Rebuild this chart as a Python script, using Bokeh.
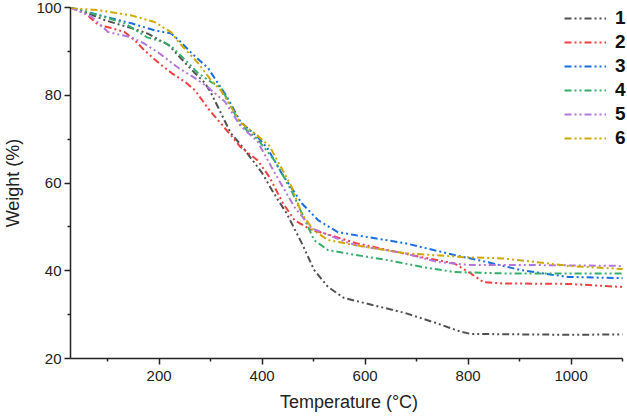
from bokeh.plotting import figure
from bokeh.models import FixedTicker, Legend, LegendItem, Range1d
from bokeh.embed import file_html
from bokeh.resources import INLINE

# ---- data ----
t1 = [28, 60, 95, 146, 177, 219, 251, 270, 289, 301, 339, 360, 400, 419, 448, 477, 501, 528, 559, 614, 677, 740, 786, 805, 900, 1000, 1100]
w1 = [100, 98.8, 97.1, 95.3, 94.1, 91.4, 87.3, 85, 82.8, 80.5, 71.4, 68.5, 62.3, 58.4, 53, 46.3, 40.2, 36.3, 33.8, 32.2, 30.4, 28, 26.1, 25.6, 25.5, 25.4, 25.5]

t2 = [28, 57, 82, 108, 133, 152, 171, 200, 225, 251, 270, 295, 343, 358, 391, 414, 440, 463, 496, 519, 582, 645, 709, 773, 805, 830, 868, 995, 1100]
w2 = [100, 98.7, 96, 95.3, 94.4, 92.6, 90.3, 87.3, 85, 83, 81.1, 77, 70.4, 68.2, 65.2, 61.4, 55.5, 51.5, 49.3, 48.6, 46.3, 44.7, 43.1, 41.7, 39.4, 37.4, 37.1, 37, 36.3]

t3 = [28, 70, 146, 191, 223, 238, 263, 295, 314, 330, 358, 391, 410, 438, 477, 509, 547, 582, 677, 773, 836, 900, 963, 995, 1100]
w3 = [100, 98.7, 96.4, 94.8, 94.1, 92.6, 89.6, 86.2, 82.8, 80, 74, 70.5, 68, 62.2, 55.4, 51.5, 48.8, 48.1, 46.3, 43.6, 42, 40.2, 39.1, 38.6, 38.3]

t4 = [28, 89, 133, 177, 209, 225, 251, 276, 301, 320, 358, 391, 425, 458, 501, 528, 582, 645, 709, 773, 868, 1100]
w4 = [100, 98, 96.4, 93.2, 92.1, 91, 88, 85, 83, 81.8, 73.3, 70, 65, 58, 47, 44.7, 43.6, 42.4, 40.9, 39.7, 39.4, 39.4]

t5 = [28, 70, 101, 146, 171, 200, 238, 270, 295, 328, 358, 391, 425, 463, 496, 553, 582, 677, 740, 805, 931, 1100]
w5 = [100, 97.8, 94.4, 93.2, 91.8, 89.6, 86.2, 83.9, 81.8, 78.5, 73, 69.5, 62.2, 54.5, 49.7, 47, 45.8, 44, 42, 41.3, 41.3, 41.1]

t6 = [28, 38, 82, 146, 191, 223, 238, 276, 301, 320, 358, 391, 414, 458, 477, 500, 528, 582, 677, 792, 868, 931, 995, 1100]
w6 = [100, 99.8, 99.4, 98.2, 96.7, 94.4, 92.1, 87.3, 83.4, 81.1, 73.8, 70.8, 68.5, 59, 53, 49.2, 47, 45.8, 44, 43.1, 42.8, 42, 41.1, 40.4]

labels = ["1", "2", "3", "4", "5", "6"]
colors = ["#515151", "#F14040", "#1A6FDF", "#37AD6B", "#B177DE", "#CFA800"]

x_major = [200, 400, 600, 800, 1000]
x_minor = [100, 300, 500, 700, 900, 1100]
y_major = [20, 40, 60, 80, 100]
y_minor = [30, 50, 70, 90]

FONT = "Liberation Sans"

# frame extends to the window's right edge so the legend labels fit;
# the x axis line itself stops at 1100 via axis bounds
p = figure(width=627, height=417, output_backend="svg", toolbar_location=None,
           x_range=Range1d(28, 1109.5), y_range=Range1d(20, 100),
           min_border_left=60, min_border_right=0, min_border_top=7, min_border_bottom=59)
p.outline_line_color = None
p.grid.visible = False
p.background_fill_color = "white"
p.border_fill_color = "white"

series = [(t1, w1), (t2, w2), (t3, w3), (t4, w4), (t5, w5), (t6, w6)]
items = []
for (t, w), lab, c in zip(series, labels, colors):
    r = p.line(t, w, line_color=c, line_width=2, line_dash="7 3 2 3 2 3")
    items.append(LegendItem(label=lab, renderers=[r]))

p.xaxis.ticker = FixedTicker(ticks=x_major, minor_ticks=x_minor)
p.yaxis.ticker = FixedTicker(ticks=y_major, minor_ticks=y_minor)
p.xaxis.bounds = (28, 1100)
for ax in (p.xaxis[0], p.yaxis[0]):
    ax.axis_line_width = 1.5
    ax.axis_line_color = "#222222"
    ax.major_tick_line_color = "#222222"
    ax.minor_tick_line_color = "#222222"
    ax.major_tick_line_width = 1.5
    ax.minor_tick_line_width = 1.5
    ax.major_tick_out = 6
    ax.major_tick_in = 0
    ax.minor_tick_out = 3
    ax.minor_tick_in = 0
    ax.major_label_text_font = FONT
    ax.major_label_text_font_size = "15px"
    ax.major_label_text_color = "#222222"
    ax.axis_label_text_font = FONT
    ax.axis_label_text_font_size = "18px"
    ax.axis_label_text_font_style = "normal"
    ax.axis_label_text_color = "#222222"
p.xaxis.axis_label = "Temperature (°C)"
p.yaxis.axis_label = "Weight (%)"
p.xaxis.major_label_standoff = 6
p.yaxis.major_label_standoff = 3
p.xaxis.axis_label_standoff = 8
p.yaxis.axis_label_standoff = 10

legend = Legend(items=items, location=(494, 209), padding=0, margin=0,
                spacing=2, glyph_width=42, glyph_height=20, label_height=20,
                label_standoff=9, border_line_alpha=0, background_fill_alpha=0,
                label_text_font=FONT, label_text_font_size="19px",
                label_text_line_height=1.0,
                label_text_font_style="bold", label_text_color="#111111")
p.add_layout(legend)

open("out.html", "w").write(file_html(p, INLINE))
